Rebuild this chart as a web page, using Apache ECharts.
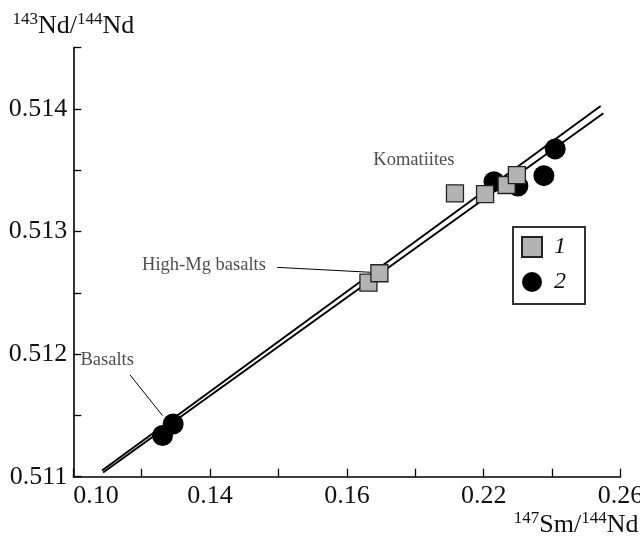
<!DOCTYPE html>
<html><head><meta charset="utf-8">
<script src="https://cdn.jsdelivr.net/npm/echarts@6/dist/echarts.min.js"></script>
<style>html,body{margin:0;padding:0;background:#fff}#c{width:640px;height:539px}</style>
</head><body><div id="c"></div>
<script>
// Tick labels as printed on the original figure (every other tick is labelled)
const xTickLabels = ["0.10", "0.14", "0.16", "0.22", "0.26"];
const yTickLabels = ["0.511", "0.512", "0.513", "0.514"];

// Series 1: squares
const squaresX = [0.1863, 0.1895, 0.2116, 0.2204, 0.2267, 0.2297];
const squaresY = [0.512583, 0.512660, 0.513311, 0.513306, 0.513380, 0.513461];
// Series 2: circles
const circlesX = [0.1261, 0.1292, 0.2230, 0.2300, 0.2376, 0.2409];
const circlesY = [0.511336, 0.511430, 0.513407, 0.513372, 0.513456, 0.513674];

// Two isochron lines (end points)
const isoAX = [0.1084, 0.2542];
const isoAY = [0.5110505, 0.5140245];
const isoBX = [0.1087, 0.2550];
const isoBY = [0.5110342, 0.5139649];

// Annotations
const annText = ["Komatiites", "High-Mg basalts", "Basalts"];
const annX = [0.1996, 0.1382, 0.1099];
const annY = [0.513584, 0.512727, 0.511952];
const leaderHighMgX = [0.1596, 0.1868];
const leaderHighMgY = [0.512708, 0.512668];
const leaderBasaltsX = [0.1166, 0.1261];
const leaderBasaltsY = [0.511830, 0.511498];

const zip = (xs, ys) => xs.map((x, i) => [x, ys[i]]);
const FONT = '"Liberation Serif", "DejaVu Serif", serif';
const titleRich = {
  m: { fontFamily: FONT, fontSize: 26, color: '#111', lineHeight: 30 },
  sup: { fontFamily: FONT, fontSize: 17, color: '#111', verticalAlign: 'top', lineHeight: 17 }
};

const chart = echarts.init(document.getElementById('c'));
chart.setOption({
  animation: false,
  backgroundColor: '#fff',
  grid: { left: 73.3, right: 19.5, top: 47.7, bottom: 62.3, containLabel: false, outerBoundsMode: 'none' },
  xAxis: {
    type: 'value', min: 0.10, max: 0.26, interval: 0.02,
    name: '{sup|147}{m|Sm/}{sup|144}{m|Nd}',
    nameLocation: 'end', nameGap: 18,
    nameTextStyle: { align: 'right', verticalAlign: 'top', padding: [33, 0, 0, 0], rich: titleRich },
    axisLine: { show: true, lineStyle: { color: '#000', width: 1.6 } },
    axisTick: { show: true, inside: true, length: 8, lineStyle: { color: '#000', width: 1.3 } },
    splitLine: { show: false },
    axisLabel: {
      fontFamily: FONT, fontSize: 26, color: '#111', margin: 6,
      alignMinLabel: 'left',
      formatter: function (v) {
        const idx = Math.round((v - 0.10) / 0.02);
        return idx % 2 === 0 ? (xTickLabels[idx / 2] || '') : '';
      }
    }
  },
  yAxis: {
    type: 'value', min: 0.511, max: 0.5145, interval: 0.0005,
    name: '{sup|143}{m|Nd/}{sup|144}{m|Nd}',
    nameLocation: 'end', nameGap: 7,
    nameTextStyle: { align: 'center', rich: titleRich },
    axisLine: { show: true, lineStyle: { color: '#000', width: 1.6 } },
    axisTick: { show: true, inside: true, length: 8, lineStyle: { color: '#000', width: 1.3 } },
    splitLine: { show: false },
    axisLabel: {
      fontFamily: FONT, fontSize: 26, color: '#111', margin: 6,
      formatter: function (v) {
        const idx = Math.round((v - 0.511) / 0.0005);
        return idx % 2 === 0 ? (yTickLabels[idx / 2] || '') : '';
      }
    }
  },
  legend: {
    orient: 'vertical', left: 513, top: 227,
    data: ['1', '2'],
    itemWidth: 20, itemHeight: 20, itemGap: 11,
    padding: [8, 19, 10, 8],
    borderColor: '#333', borderWidth: 2, backgroundColor: '#fff',
    textStyle: { fontFamily: FONT, fontSize: 24, fontStyle: 'italic', color: '#111', padding: [0, 0, 0, 7] }
  },
  series: [
    { type: 'line', data: zip(isoAX, isoAY), symbol: 'none', silent: true, z: 1,
      lineStyle: { color: '#000', width: 2 } },
    { type: 'line', data: zip(isoBX, isoBY), symbol: 'none', silent: true, z: 1,
      lineStyle: { color: '#000', width: 2 } },
    { type: 'line', data: zip(leaderHighMgX, leaderHighMgY), symbol: 'none', silent: true, z: 1,
      lineStyle: { color: '#000', width: 1 } },
    { type: 'line', data: zip(leaderBasaltsX, leaderBasaltsY), symbol: 'none', silent: true, z: 1,
      lineStyle: { color: '#000', width: 1 } },
    { type: 'scatter', data: zip(annX, annY).map((p, i) => ({ value: p, name: annText[i] })),
      symbolSize: 0, silent: true, z: 1,
      label: { show: true, position: 'inside', formatter: '{b}', fontFamily: FONT, fontSize: 18.5, color: '#222' } },
    { name: '2', type: 'scatter', data: zip(circlesX, circlesY), symbol: 'circle', symbolSize: 21, z: 2,
      itemStyle: { color: '#000', opacity: 1 } },
    { name: '1', type: 'scatter', data: zip(squaresX, squaresY), symbol: 'rect', symbolSize: 17, z: 3,
      itemStyle: { color: '#b3b3b3', borderColor: '#222', borderWidth: 1.3, opacity: 1 } }
  ]
});
</script>
</body></html>
